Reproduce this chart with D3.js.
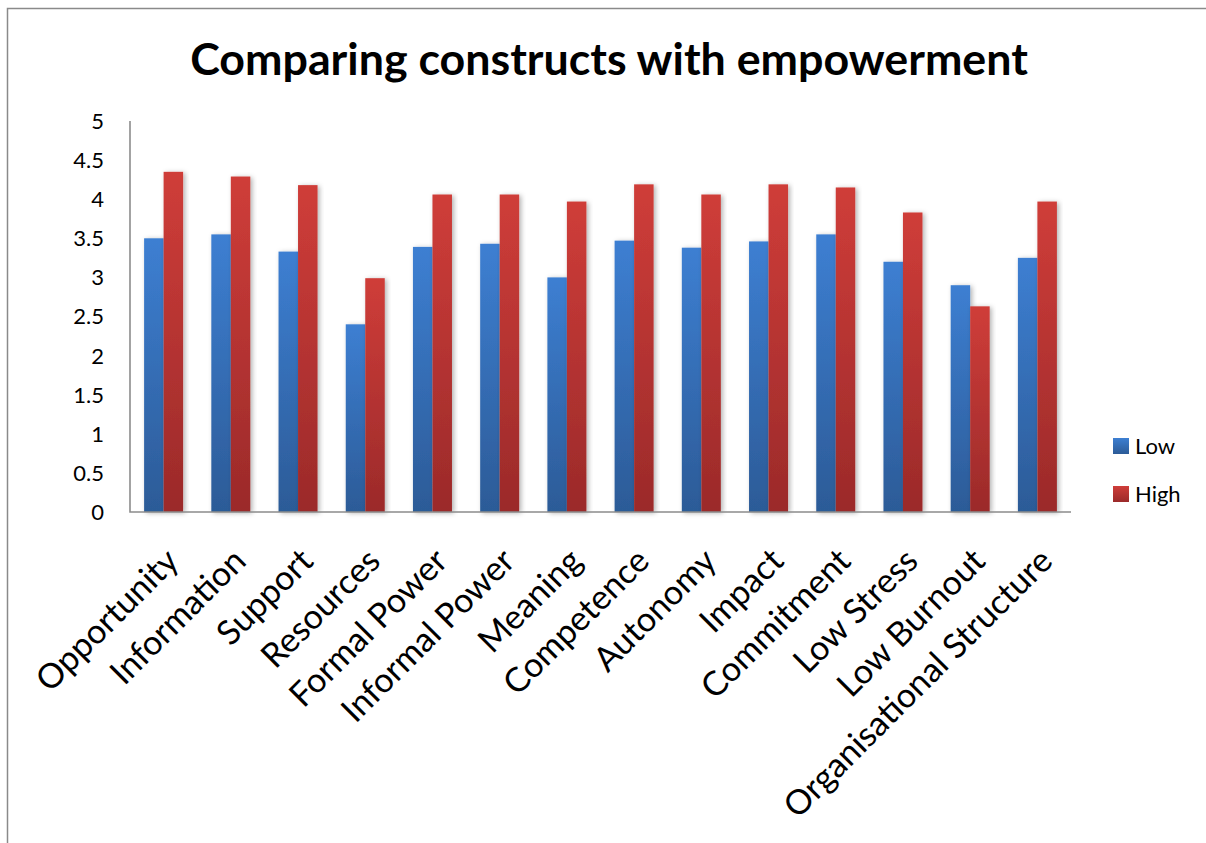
<!DOCTYPE html>
<html>
<head>
<meta charset="utf-8">
<script src="https://cdn.jsdelivr.net/npm/d3@7"></script>
<style>
  body { margin: 0; background: #fff; }
  svg text { font-family: Lato, "Open Sans", sans-serif; fill: #000; }
</style>
</head>
<body>
<div id="chart"></div>
<script>
// data
const categories = ["Opportunity", "Information", "Support", "Resources", "Formal Power",
  "Informal Power", "Meaning", "Competence", "Autonomy", "Impact", "Commitment",
  "Low Stress", "Low Burnout", "Organisational Structure"];
const lowValues  = [3.50, 3.55, 3.33, 2.40, 3.39, 3.43, 3.00, 3.47, 3.38, 3.46, 3.55, 3.20, 2.90, 3.25];
const highValues = [4.35, 4.29, 4.18, 2.99, 4.06, 4.06, 3.97, 4.19, 4.06, 4.19, 4.15, 3.83, 2.63, 3.97];
const seriesNames = ["Low", "High"];
const yTicks = [0, 0.5, 1, 1.5, 2, 2.5, 3, 3.5, 4, 4.5, 5];

const W = 1206, H = 843;
const plot = { left: 130, right: 1071, top: 121, bottom: 512 };

const svg = d3.select("#chart").append("svg")
  .attr("width", W).attr("height", H);

const defs = svg.append("defs");
const grads = [
  { id: "gLow",  top: "#3d7fd2", bottom: "#2c5b97" },
  { id: "gHigh", top: "#cf3d39", bottom: "#9b2a2a" }
];
grads.forEach(g => {
  const lg = defs.append("linearGradient").attr("id", g.id)
    .attr("x1", 0).attr("y1", 0).attr("x2", 0).attr("y2", 1);
  lg.append("stop").attr("offset", "0%").attr("stop-color", g.top);
  lg.append("stop").attr("offset", "100%").attr("stop-color", g.bottom);
});
defs.append("filter").attr("id", "shadow")
  .attr("x", "-30%").attr("y", "-10%").attr("width", "160%").attr("height", "120%")
  .append("feDropShadow")
  .attr("dx", 2).attr("dy", 1).attr("stdDeviation", 2.5)
  .attr("flood-color", "#000").attr("flood-opacity", 0.3);
defs.append("filter").attr("id", "lineShadow")
  .attr("x", "-5%").attr("y", "-200%").attr("width", "110%").attr("height", "500%")
  .append("feDropShadow")
  .attr("dx", 0).attr("dy", 1.5).attr("stdDeviation", 1)
  .attr("flood-color", "#000").attr("flood-opacity", 0.2);

// chart border (cut off on right and bottom like the source)
svg.append("path")
  .attr("d", `M7.5,${H} V8.5 H${W}`)
  .attr("fill", "none").attr("stroke", "#8a8a8a").attr("stroke-width", 1.5);

// title
const title = svg.append("text")
  .attr("x", 609).attr("y", 75)
  .attr("text-anchor", "middle")
  .attr("font-size", 44).attr("font-weight", "bold")
  .text("Comparing constructs with empowerment");
const tw = title.node().getComputedTextLength();
title.attr("font-size", 44 * 838 / tw);

const x0 = d3.scaleBand().domain(categories).range([plot.left, plot.right]).paddingInner(0).paddingOuter(0);
const y = d3.scaleLinear().domain([0, 5]).range([plot.bottom, plot.top]);
const barW = 19.5;

// gridlines
svg.append("g").selectAll("line").data(yTicks.filter(t => t > 0)).join("line")
  .attr("x1", plot.left).attr("x2", plot.right)
  .attr("y1", d => y(d)).attr("y2", d => y(d))
  .attr("stroke", "#8c8c8c").attr("stroke-width", 1.6)
  .attr("filter", "url(#lineShadow)");

// y tick labels
svg.append("g").selectAll("text").data(yTicks).join("text")
  .attr("x", 104).attr("y", d => y(d))
  .attr("dy", "0.36em")
  .attr("text-anchor", "end")
  .attr("font-size", 22)
  .text(d => d);

// bars
const groups = svg.append("g").selectAll("g").data(categories).join("g");
groups.each(function (c, i) {
  const g = d3.select(this);
  const cx = x0(c) + x0.bandwidth() / 2;
  [lowValues[i], highValues[i]].forEach((v, k) => {
    g.append("rect")
      .attr("x", cx - barW + k * barW)
      .attr("y", y(v))
      .attr("width", barW)
      .attr("height", y(0) - y(v))
      .attr("fill", `url(#${grads[k].id})`)
      .attr("filter", "url(#shadow)");
  });
});

// axes
svg.append("path")
  .attr("d", `M${plot.left},${plot.top} V${plot.bottom} H${plot.right}`)
  .attr("fill", "none").attr("stroke", "#8c8c8c").attr("stroke-width", 1.6);

// category labels, rotated
svg.append("g").selectAll("text").data(categories).join("text")
  .attr("transform", d => `translate(${x0(d) + x0.bandwidth() / 2 + 17},${563}) rotate(-45)`)
  .attr("text-anchor", "end")
  .attr("font-size", 34)
  .text(d => d);

// legend
const legend = svg.append("g").selectAll("g").data(seriesNames).join("g")
  .attr("transform", (d, i) => `translate(1113,${438 + i * 48})`);
legend.append("rect")
  .attr("width", 16).attr("height", 16)
  .attr("fill", (d, i) => `url(#${grads[i].id})`);
legend.append("text")
  .attr("x", 22).attr("y", 8).attr("dy", "0.36em")
  .attr("font-size", 22)
  .text(d => d);
</script>
</body>
</html>
